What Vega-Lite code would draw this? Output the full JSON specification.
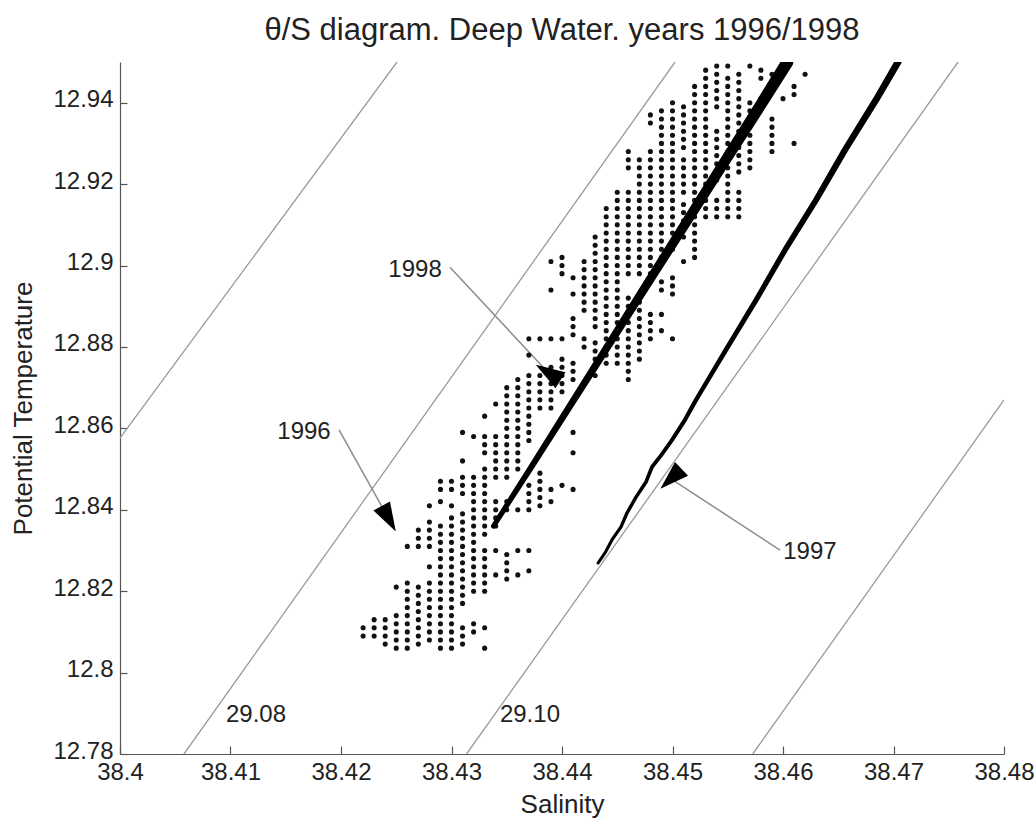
{
  "$schema": "https://vega.github.io/schema/vega-lite/v6.json",
  "autosize": "none",
  "width": 884,
  "height": 692,
  "padding": {"left": 120, "top": 62, "right": 31, "bottom": 66},
  "background": "white",
  "config": {
    "view": {"stroke": null},
    "font": "Liberation Sans",
    "axis": {"grid": false, "domainColor": "#555", "tickColor": "#555", "labelColor": "#222", "titleColor": "#222", "labelFont": "Liberation Sans", "titleFont": "Liberation Sans", "labelFontSize": 24, "titleFontSize": 26, "titleFontWeight": "normal", "domainWidth": 1.2, "tickWidth": 1.2}
  },
  "title": {"text": "θ/S diagram. Deep Water. years 1996/1998", "fontSize": 31, "fontWeight": "normal", "font": "Liberation Sans", "color": "#222", "offset": 15, "anchor": "middle"},
  "resolve": {"scale": {"size": "independent"}},
  "datasets": {
    "iso": [
      {"sigma": "29.06", "s": 38.4, "t": 12.8576}, {"sigma": "29.06", "s": 38.42507, "t": 12.95},
      {"sigma": "29.08", "s": 38.40579, "t": 12.78}, {"sigma": "29.08", "s": 38.45023, "t": 12.95},
      {"sigma": "29.10", "s": 38.43136, "t": 12.78}, {"sigma": "29.10", "s": 38.47584, "t": 12.95},
      {"sigma": "29.12", "s": 38.45726, "t": 12.78}, {"sigma": "29.12", "s": 38.48, "t": 12.867}
    ],
    "leaders": [
      {"label": "1996", "s": 38.41982, "t": 12.8596, "s2": 38.42432, "t2": 12.8378},
      {"label": "1998", "s": 38.42986, "t": 12.8996, "s2": 38.43874, "t2": 12.8737},
      {"label": "1997", "s": 38.45973, "t": 12.8301, "s2": 38.44986, "t2": 12.8476}
    ],
    "labels": [
      {"text": "1996", "s": 38.41665, "t": 12.8591},
      {"text": "1998", "s": 38.4267, "t": 12.8989},
      {"text": "1997", "s": 38.46244, "t": 12.8296},
      {"text": "29.08", "s": 38.41231, "t": 12.7896},
      {"text": "29.10", "s": 38.4371, "t": 12.7896}
    ],
    "y1998": [
      {"s": 38.4338, "t": 12.836}, {"s": 38.4371, "t": 12.85}, {"s": 38.4406, "t": 12.865}, {"s": 38.4441, "t": 12.88}, {"s": 38.4476, "t": 12.895}, {"s": 38.4511, "t": 12.91}, {"s": 38.4546, "t": 12.925}, {"s": 38.4581, "t": 12.94}, {"s": 38.4604, "t": 12.95}
    ],
    "y1997": [
      {"s": 38.44326, "t": 12.8269}, {"s": 38.44389, "t": 12.8294}, {"s": 38.44452, "t": 12.8326}, {"s": 38.44534, "t": 12.8358}, {"s": 38.44588, "t": 12.8392}, {"s": 38.4467, "t": 12.8431}, {"s": 38.4476, "t": 12.8468}, {"s": 38.44814, "t": 12.8505}, {"s": 38.449, "t": 12.8535}, {"s": 38.44995, "t": 12.8571}, {"s": 38.45113, "t": 12.8621}, {"s": 38.45213, "t": 12.867}, {"s": 38.45484, "t": 12.8793}, {"s": 38.45756, "t": 12.8915}, {"s": 38.46018, "t": 12.9038}, {"s": 38.46299, "t": 12.9161}, {"s": 38.46561, "t": 12.9284}, {"s": 38.46842, "t": 12.9407}, {"s": 38.47041, "t": 12.95}
    ],
    "obs": [
{"s":38.422,"t":12.809},{"s":38.422,"t":12.811},
{"s":38.423,"t":12.809},{"s":38.423,"t":12.811},{"s":38.423,"t":12.813},
{"s":38.424,"t":12.807},{"s":38.424,"t":12.809},{"s":38.424,"t":12.811},{"s":38.424,"t":12.813},
{"s":38.425,"t":12.806},{"s":38.425,"t":12.808},{"s":38.425,"t":12.81},{"s":38.425,"t":12.812},{"s":38.425,"t":12.814},{"s":38.425,"t":12.821},
{"s":38.426,"t":12.806},{"s":38.426,"t":12.808},{"s":38.426,"t":12.81},{"s":38.426,"t":12.812},{"s":38.426,"t":12.814},{"s":38.426,"t":12.816},{"s":38.426,"t":12.818},{"s":38.426,"t":12.82},{"s":38.426,"t":12.822},{"s":38.426,"t":12.831},
{"s":38.427,"t":12.807},{"s":38.427,"t":12.809},{"s":38.427,"t":12.811},{"s":38.427,"t":12.813},{"s":38.427,"t":12.815},{"s":38.427,"t":12.817},{"s":38.427,"t":12.819},{"s":38.427,"t":12.821},{"s":38.427,"t":12.831},{"s":38.427,"t":12.833},{"s":38.427,"t":12.835},
{"s":38.428,"t":12.808},{"s":38.428,"t":12.81},{"s":38.428,"t":12.812},{"s":38.428,"t":12.814},{"s":38.428,"t":12.816},{"s":38.428,"t":12.818},{"s":38.428,"t":12.82},{"s":38.428,"t":12.822},{"s":38.428,"t":12.826},{"s":38.428,"t":12.831},{"s":38.428,"t":12.833},{"s":38.428,"t":12.835},{"s":38.428,"t":12.837},{"s":38.428,"t":12.841},
{"s":38.429,"t":12.806},{"s":38.429,"t":12.808},{"s":38.429,"t":12.81},{"s":38.429,"t":12.812},{"s":38.429,"t":12.814},{"s":38.429,"t":12.816},{"s":38.429,"t":12.818},{"s":38.429,"t":12.82},{"s":38.429,"t":12.822},{"s":38.429,"t":12.824},{"s":38.429,"t":12.826},{"s":38.429,"t":12.828},{"s":38.429,"t":12.83},{"s":38.429,"t":12.832},{"s":38.429,"t":12.834},{"s":38.429,"t":12.836},{"s":38.429,"t":12.842},{"s":38.429,"t":12.845},{"s":38.429,"t":12.847},
{"s":38.43,"t":12.806},{"s":38.43,"t":12.808},{"s":38.43,"t":12.81},{"s":38.43,"t":12.812},{"s":38.43,"t":12.814},{"s":38.43,"t":12.816},{"s":38.43,"t":12.818},{"s":38.43,"t":12.82},{"s":38.43,"t":12.822},{"s":38.43,"t":12.824},{"s":38.43,"t":12.826},{"s":38.43,"t":12.828},{"s":38.43,"t":12.83},{"s":38.43,"t":12.832},{"s":38.43,"t":12.834},{"s":38.43,"t":12.836},{"s":38.43,"t":12.838},{"s":38.43,"t":12.841},{"s":38.43,"t":12.845},{"s":38.43,"t":12.847},
{"s":38.431,"t":12.807},{"s":38.431,"t":12.809},{"s":38.431,"t":12.811},{"s":38.431,"t":12.817},{"s":38.431,"t":12.819},{"s":38.431,"t":12.821},{"s":38.431,"t":12.823},{"s":38.431,"t":12.825},{"s":38.431,"t":12.827},{"s":38.431,"t":12.829},{"s":38.431,"t":12.831},{"s":38.431,"t":12.833},{"s":38.431,"t":12.835},{"s":38.431,"t":12.837},{"s":38.431,"t":12.839},{"s":38.431,"t":12.844},{"s":38.431,"t":12.846},{"s":38.431,"t":12.848},{"s":38.431,"t":12.852},{"s":38.431,"t":12.859},
{"s":38.432,"t":12.81},{"s":38.432,"t":12.812},{"s":38.432,"t":12.82},{"s":38.432,"t":12.822},{"s":38.432,"t":12.824},{"s":38.432,"t":12.826},{"s":38.432,"t":12.828},{"s":38.432,"t":12.83},{"s":38.432,"t":12.832},{"s":38.432,"t":12.834},{"s":38.432,"t":12.836},{"s":38.432,"t":12.838},{"s":38.432,"t":12.84},{"s":38.432,"t":12.842},{"s":38.432,"t":12.844},{"s":38.432,"t":12.846},{"s":38.432,"t":12.848},{"s":38.432,"t":12.858},
{"s":38.433,"t":12.806},{"s":38.433,"t":12.811},{"s":38.433,"t":12.82},{"s":38.433,"t":12.822},{"s":38.433,"t":12.824},{"s":38.433,"t":12.826},{"s":38.433,"t":12.828},{"s":38.433,"t":12.83},{"s":38.433,"t":12.834},{"s":38.433,"t":12.836},{"s":38.433,"t":12.838},{"s":38.433,"t":12.84},{"s":38.433,"t":12.842},{"s":38.433,"t":12.844},{"s":38.433,"t":12.846},{"s":38.433,"t":12.848},{"s":38.433,"t":12.85},{"s":38.433,"t":12.854},{"s":38.433,"t":12.856},{"s":38.433,"t":12.858},{"s":38.433,"t":12.863},
{"s":38.434,"t":12.824},{"s":38.434,"t":12.83},{"s":38.434,"t":12.836},{"s":38.434,"t":12.838},{"s":38.434,"t":12.84},{"s":38.434,"t":12.842},{"s":38.434,"t":12.848},{"s":38.434,"t":12.85},{"s":38.434,"t":12.852},{"s":38.434,"t":12.854},{"s":38.434,"t":12.856},{"s":38.434,"t":12.858},{"s":38.434,"t":12.866},
{"s":38.435,"t":12.823},{"s":38.435,"t":12.825},{"s":38.435,"t":12.827},{"s":38.435,"t":12.829},{"s":38.435,"t":12.84},{"s":38.435,"t":12.842},{"s":38.435,"t":12.848},{"s":38.435,"t":12.85},{"s":38.435,"t":12.852},{"s":38.435,"t":12.854},{"s":38.435,"t":12.856},{"s":38.435,"t":12.858},{"s":38.435,"t":12.86},{"s":38.435,"t":12.862},{"s":38.435,"t":12.864},{"s":38.435,"t":12.866},{"s":38.435,"t":12.868},{"s":38.435,"t":12.87},
{"s":38.436,"t":12.824},{"s":38.436,"t":12.83},{"s":38.436,"t":12.84},{"s":38.436,"t":12.85},{"s":38.436,"t":12.852},{"s":38.436,"t":12.854},{"s":38.436,"t":12.856},{"s":38.436,"t":12.858},{"s":38.436,"t":12.86},{"s":38.436,"t":12.862},{"s":38.436,"t":12.864},{"s":38.436,"t":12.866},{"s":38.436,"t":12.868},{"s":38.436,"t":12.87},{"s":38.436,"t":12.872},
{"s":38.437,"t":12.825},{"s":38.437,"t":12.83},{"s":38.437,"t":12.84},{"s":38.437,"t":12.842},{"s":38.437,"t":12.844},{"s":38.437,"t":12.846},{"s":38.437,"t":12.857},{"s":38.437,"t":12.859},{"s":38.437,"t":12.861},{"s":38.437,"t":12.863},{"s":38.437,"t":12.865},{"s":38.437,"t":12.867},{"s":38.437,"t":12.869},{"s":38.437,"t":12.871},{"s":38.437,"t":12.873},{"s":38.437,"t":12.878},{"s":38.437,"t":12.882},
{"s":38.438,"t":12.841},{"s":38.438,"t":12.843},{"s":38.438,"t":12.845},{"s":38.438,"t":12.847},{"s":38.438,"t":12.849},{"s":38.438,"t":12.865},{"s":38.438,"t":12.867},{"s":38.438,"t":12.869},{"s":38.438,"t":12.871},{"s":38.438,"t":12.873},{"s":38.438,"t":12.882},
{"s":38.439,"t":12.842},{"s":38.439,"t":12.845},{"s":38.439,"t":12.865},{"s":38.439,"t":12.867},{"s":38.439,"t":12.869},{"s":38.439,"t":12.871},{"s":38.439,"t":12.873},{"s":38.439,"t":12.875},{"s":38.439,"t":12.882},{"s":38.439,"t":12.894},{"s":38.439,"t":12.901},
{"s":38.44,"t":12.846},{"s":38.44,"t":12.869},{"s":38.44,"t":12.871},{"s":38.44,"t":12.873},{"s":38.44,"t":12.875},{"s":38.44,"t":12.877},{"s":38.44,"t":12.882},{"s":38.44,"t":12.898},{"s":38.44,"t":12.9},{"s":38.44,"t":12.902},
{"s":38.441,"t":12.845},{"s":38.441,"t":12.854},{"s":38.441,"t":12.859},{"s":38.441,"t":12.872},{"s":38.441,"t":12.874},{"s":38.441,"t":12.876},{"s":38.441,"t":12.883},{"s":38.441,"t":12.885},{"s":38.441,"t":12.887},{"s":38.441,"t":12.893},{"s":38.441,"t":12.897},
{"s":38.442,"t":12.88},{"s":38.442,"t":12.882},{"s":38.442,"t":12.889},{"s":38.442,"t":12.891},{"s":38.442,"t":12.893},{"s":38.442,"t":12.895},{"s":38.442,"t":12.897},{"s":38.442,"t":12.899},{"s":38.442,"t":12.901},
{"s":38.443,"t":12.873},{"s":38.443,"t":12.875},{"s":38.443,"t":12.877},{"s":38.443,"t":12.879},{"s":38.443,"t":12.881},{"s":38.443,"t":12.885},{"s":38.443,"t":12.887},{"s":38.443,"t":12.889},{"s":38.443,"t":12.891},{"s":38.443,"t":12.893},{"s":38.443,"t":12.895},{"s":38.443,"t":12.897},{"s":38.443,"t":12.899},{"s":38.443,"t":12.901},{"s":38.443,"t":12.903},{"s":38.443,"t":12.905},{"s":38.443,"t":12.907},
{"s":38.444,"t":12.876},{"s":38.444,"t":12.878},{"s":38.444,"t":12.88},{"s":38.444,"t":12.882},{"s":38.444,"t":12.884},{"s":38.444,"t":12.886},{"s":38.444,"t":12.888},{"s":38.444,"t":12.89},{"s":38.444,"t":12.892},{"s":38.444,"t":12.894},{"s":38.444,"t":12.896},{"s":38.444,"t":12.898},{"s":38.444,"t":12.9},{"s":38.444,"t":12.902},{"s":38.444,"t":12.904},{"s":38.444,"t":12.906},{"s":38.444,"t":12.908},{"s":38.444,"t":12.91},{"s":38.444,"t":12.912},{"s":38.444,"t":12.914},
{"s":38.445,"t":12.876},{"s":38.445,"t":12.878},{"s":38.445,"t":12.88},{"s":38.445,"t":12.882},{"s":38.445,"t":12.884},{"s":38.445,"t":12.886},{"s":38.445,"t":12.888},{"s":38.445,"t":12.89},{"s":38.445,"t":12.892},{"s":38.445,"t":12.894},{"s":38.445,"t":12.896},{"s":38.445,"t":12.898},{"s":38.445,"t":12.9},{"s":38.445,"t":12.902},{"s":38.445,"t":12.904},{"s":38.445,"t":12.906},{"s":38.445,"t":12.908},{"s":38.445,"t":12.91},{"s":38.445,"t":12.912},{"s":38.445,"t":12.914},{"s":38.445,"t":12.916},{"s":38.445,"t":12.918},
{"s":38.446,"t":12.872},{"s":38.446,"t":12.874},{"s":38.446,"t":12.876},{"s":38.446,"t":12.878},{"s":38.446,"t":12.88},{"s":38.446,"t":12.882},{"s":38.446,"t":12.884},{"s":38.446,"t":12.886},{"s":38.446,"t":12.888},{"s":38.446,"t":12.89},{"s":38.446,"t":12.892},{"s":38.446,"t":12.898},{"s":38.446,"t":12.9},{"s":38.446,"t":12.902},{"s":38.446,"t":12.904},{"s":38.446,"t":12.906},{"s":38.446,"t":12.908},{"s":38.446,"t":12.91},{"s":38.446,"t":12.912},{"s":38.446,"t":12.914},{"s":38.446,"t":12.916},{"s":38.446,"t":12.918},{"s":38.446,"t":12.924},{"s":38.446,"t":12.926},{"s":38.446,"t":12.928},
{"s":38.447,"t":12.877},{"s":38.447,"t":12.879},{"s":38.447,"t":12.881},{"s":38.447,"t":12.883},{"s":38.447,"t":12.885},{"s":38.447,"t":12.887},{"s":38.447,"t":12.889},{"s":38.447,"t":12.891},{"s":38.447,"t":12.898},{"s":38.447,"t":12.9},{"s":38.447,"t":12.902},{"s":38.447,"t":12.904},{"s":38.447,"t":12.906},{"s":38.447,"t":12.908},{"s":38.447,"t":12.91},{"s":38.447,"t":12.912},{"s":38.447,"t":12.914},{"s":38.447,"t":12.916},{"s":38.447,"t":12.918},{"s":38.447,"t":12.92},{"s":38.447,"t":12.922},{"s":38.447,"t":12.924},{"s":38.447,"t":12.926},
{"s":38.448,"t":12.882},{"s":38.448,"t":12.884},{"s":38.448,"t":12.886},{"s":38.448,"t":12.888},{"s":38.448,"t":12.898},{"s":38.448,"t":12.9},{"s":38.448,"t":12.902},{"s":38.448,"t":12.904},{"s":38.448,"t":12.906},{"s":38.448,"t":12.908},{"s":38.448,"t":12.91},{"s":38.448,"t":12.912},{"s":38.448,"t":12.914},{"s":38.448,"t":12.916},{"s":38.448,"t":12.918},{"s":38.448,"t":12.92},{"s":38.448,"t":12.922},{"s":38.448,"t":12.924},{"s":38.448,"t":12.926},{"s":38.448,"t":12.928},{"s":38.448,"t":12.935},{"s":38.448,"t":12.937},
{"s":38.449,"t":12.884},{"s":38.449,"t":12.888},{"s":38.449,"t":12.894},{"s":38.449,"t":12.896},{"s":38.449,"t":12.902},{"s":38.449,"t":12.904},{"s":38.449,"t":12.906},{"s":38.449,"t":12.908},{"s":38.449,"t":12.91},{"s":38.449,"t":12.912},{"s":38.449,"t":12.914},{"s":38.449,"t":12.916},{"s":38.449,"t":12.918},{"s":38.449,"t":12.92},{"s":38.449,"t":12.922},{"s":38.449,"t":12.924},{"s":38.449,"t":12.926},{"s":38.449,"t":12.928},{"s":38.449,"t":12.93},{"s":38.449,"t":12.932},{"s":38.449,"t":12.934},{"s":38.449,"t":12.936},{"s":38.449,"t":12.938},
{"s":38.45,"t":12.882},{"s":38.45,"t":12.893},{"s":38.45,"t":12.895},{"s":38.45,"t":12.897},{"s":38.45,"t":12.904},{"s":38.45,"t":12.906},{"s":38.45,"t":12.908},{"s":38.45,"t":12.91},{"s":38.45,"t":12.912},{"s":38.45,"t":12.914},{"s":38.45,"t":12.916},{"s":38.45,"t":12.918},{"s":38.45,"t":12.92},{"s":38.45,"t":12.922},{"s":38.45,"t":12.924},{"s":38.45,"t":12.926},{"s":38.45,"t":12.928},{"s":38.45,"t":12.93},{"s":38.45,"t":12.932},{"s":38.45,"t":12.934},{"s":38.45,"t":12.936},{"s":38.45,"t":12.938},{"s":38.45,"t":12.94},
{"s":38.451,"t":12.901},{"s":38.451,"t":12.907},{"s":38.451,"t":12.909},{"s":38.451,"t":12.911},{"s":38.451,"t":12.913},{"s":38.451,"t":12.915},{"s":38.451,"t":12.918},{"s":38.451,"t":12.92},{"s":38.451,"t":12.922},{"s":38.451,"t":12.924},{"s":38.451,"t":12.926},{"s":38.451,"t":12.929},{"s":38.451,"t":12.931},{"s":38.451,"t":12.933},{"s":38.451,"t":12.935},{"s":38.451,"t":12.937},{"s":38.451,"t":12.939},
{"s":38.452,"t":12.902},{"s":38.452,"t":12.904},{"s":38.452,"t":12.906},{"s":38.452,"t":12.908},{"s":38.452,"t":12.91},{"s":38.452,"t":12.912},{"s":38.452,"t":12.914},{"s":38.452,"t":12.916},{"s":38.452,"t":12.918},{"s":38.452,"t":12.92},{"s":38.452,"t":12.922},{"s":38.452,"t":12.924},{"s":38.452,"t":12.926},{"s":38.452,"t":12.928},{"s":38.452,"t":12.93},{"s":38.452,"t":12.932},{"s":38.452,"t":12.934},{"s":38.452,"t":12.936},{"s":38.452,"t":12.938},{"s":38.452,"t":12.94},{"s":38.452,"t":12.942},{"s":38.452,"t":12.944},
{"s":38.453,"t":12.912},{"s":38.453,"t":12.914},{"s":38.453,"t":12.916},{"s":38.453,"t":12.918},{"s":38.453,"t":12.92},{"s":38.453,"t":12.922},{"s":38.453,"t":12.924},{"s":38.453,"t":12.926},{"s":38.453,"t":12.928},{"s":38.453,"t":12.93},{"s":38.453,"t":12.932},{"s":38.453,"t":12.934},{"s":38.453,"t":12.936},{"s":38.453,"t":12.938},{"s":38.453,"t":12.94},{"s":38.453,"t":12.942},{"s":38.453,"t":12.944},{"s":38.453,"t":12.946},{"s":38.453,"t":12.948},
{"s":38.454,"t":12.912},{"s":38.454,"t":12.914},{"s":38.454,"t":12.916},{"s":38.454,"t":12.921},{"s":38.454,"t":12.923},{"s":38.454,"t":12.925},{"s":38.454,"t":12.927},{"s":38.454,"t":12.929},{"s":38.454,"t":12.931},{"s":38.454,"t":12.933},{"s":38.454,"t":12.939},{"s":38.454,"t":12.941},{"s":38.454,"t":12.943},{"s":38.454,"t":12.945},{"s":38.454,"t":12.947},{"s":38.454,"t":12.949},
{"s":38.455,"t":12.912},{"s":38.455,"t":12.914},{"s":38.455,"t":12.916},{"s":38.455,"t":12.918},{"s":38.455,"t":12.92},{"s":38.455,"t":12.922},{"s":38.455,"t":12.924},{"s":38.455,"t":12.926},{"s":38.455,"t":12.928},{"s":38.455,"t":12.93},{"s":38.455,"t":12.932},{"s":38.455,"t":12.934},{"s":38.455,"t":12.936},{"s":38.455,"t":12.938},{"s":38.455,"t":12.94},{"s":38.455,"t":12.942},{"s":38.455,"t":12.944},{"s":38.455,"t":12.946},{"s":38.455,"t":12.949},
{"s":38.456,"t":12.912},{"s":38.456,"t":12.914},{"s":38.456,"t":12.916},{"s":38.456,"t":12.918},{"s":38.456,"t":12.923},{"s":38.456,"t":12.925},{"s":38.456,"t":12.927},{"s":38.456,"t":12.929},{"s":38.456,"t":12.933},{"s":38.456,"t":12.935},{"s":38.456,"t":12.937},{"s":38.456,"t":12.939},{"s":38.456,"t":12.941},{"s":38.456,"t":12.943},{"s":38.456,"t":12.945},{"s":38.456,"t":12.947},
{"s":38.457,"t":12.924},{"s":38.457,"t":12.926},{"s":38.457,"t":12.928},{"s":38.457,"t":12.93},{"s":38.457,"t":12.932},{"s":38.457,"t":12.934},{"s":38.457,"t":12.936},{"s":38.457,"t":12.938},{"s":38.457,"t":12.94},{"s":38.457,"t":12.949},
{"s":38.458,"t":12.941},{"s":38.458,"t":12.946},{"s":38.458,"t":12.948},
{"s":38.459,"t":12.928},{"s":38.459,"t":12.93},{"s":38.459,"t":12.932},{"s":38.459,"t":12.934},{"s":38.459,"t":12.936},{"s":38.459,"t":12.944},{"s":38.459,"t":12.947},
{"s":38.46,"t":12.941},
{"s":38.461,"t":12.93},{"s":38.461,"t":12.942},{"s":38.461,"t":12.944},
{"s":38.462,"t":12.947}
    ]
  },
  "encoding": {
    "x": {"field": "s", "type": "quantitative", "scale": {"domain": [38.4, 38.48], "nice": false, "zero": false},
      "axis": {"title": "Salinity", "values": [38.4, 38.41, 38.42, 38.43, 38.44, 38.45, 38.46, 38.47, 38.48], "format": "~g", "tickSize": -8, "labelPadding": 14, "titlePadding": 7, "labelFlush": false, "labelOverlap": false}},
    "y": {"field": "t", "type": "quantitative", "scale": {"domain": [12.78, 12.95], "nice": false, "zero": false},
      "axis": {"title": "Potential Temperature", "values": [12.78, 12.8, 12.82, 12.84, 12.86, 12.88, 12.9, 12.92, 12.94], "format": "~g", "tickSize": -7, "labelPadding": 14, "labelOffset": -3, "titlePadding": 16, "labelFlush": false, "labelOverlap": false}}
  },
  "layer": [
    {"data": {"name": "iso"}, "mark": {"type": "line", "color": "#9a9a9a", "strokeWidth": 1.3, "clip": true}, "encoding": {"detail": {"field": "sigma"}}},
    {"data": {"name": "leaders"}, "mark": {"type": "rule", "color": "#8c8c8c", "strokeWidth": 1.5}, "encoding": {"x2": {"field": "s2"}, "y2": {"field": "t2"}}},
    {"data": {"name": "obs"}, "mark": {"type": "point", "filled": true, "color": "#111", "size": 26, "opacity": 1, "clip": true}},
    {"data": {"name": "y1998"}, "mark": {"type": "trail", "color": "#000", "clip": true},
      "encoding": {"size": {"field": "t", "type": "quantitative", "scale": {"domain": [12.836, 12.95], "range": [5, 12]}, "legend": null}}},
    {"data": {"name": "y1997"}, "mark": {"type": "trail", "color": "#000", "clip": true},
      "encoding": {"size": {"field": "t", "type": "quantitative", "scale": {"domain": [12.827, 12.95], "range": [3, 7]}, "legend": null}}},
    {"data": {"name": "leaders"}, "mark": {"type": "point", "shape": "M0,-1L0.65,1L-0.65,1Z", "filled": true, "color": "#000", "size": 850, "opacity": 1},
      "encoding": {"x": {"field": "s2", "type": "quantitative"}, "y": {"field": "t2", "type": "quantitative"},
        "angle": {"field": "label", "type": "nominal", "scale": {"domain": ["1996", "1997", "1998"], "range": [151, 302, 137]}, "legend": null}}},
    {"data": {"name": "labels"}, "mark": {"type": "text", "fontSize": 24, "font": "Liberation Sans", "color": "#222", "align": "center", "baseline": "middle"}, "encoding": {"text": {"field": "text"}}}
  ]
}
